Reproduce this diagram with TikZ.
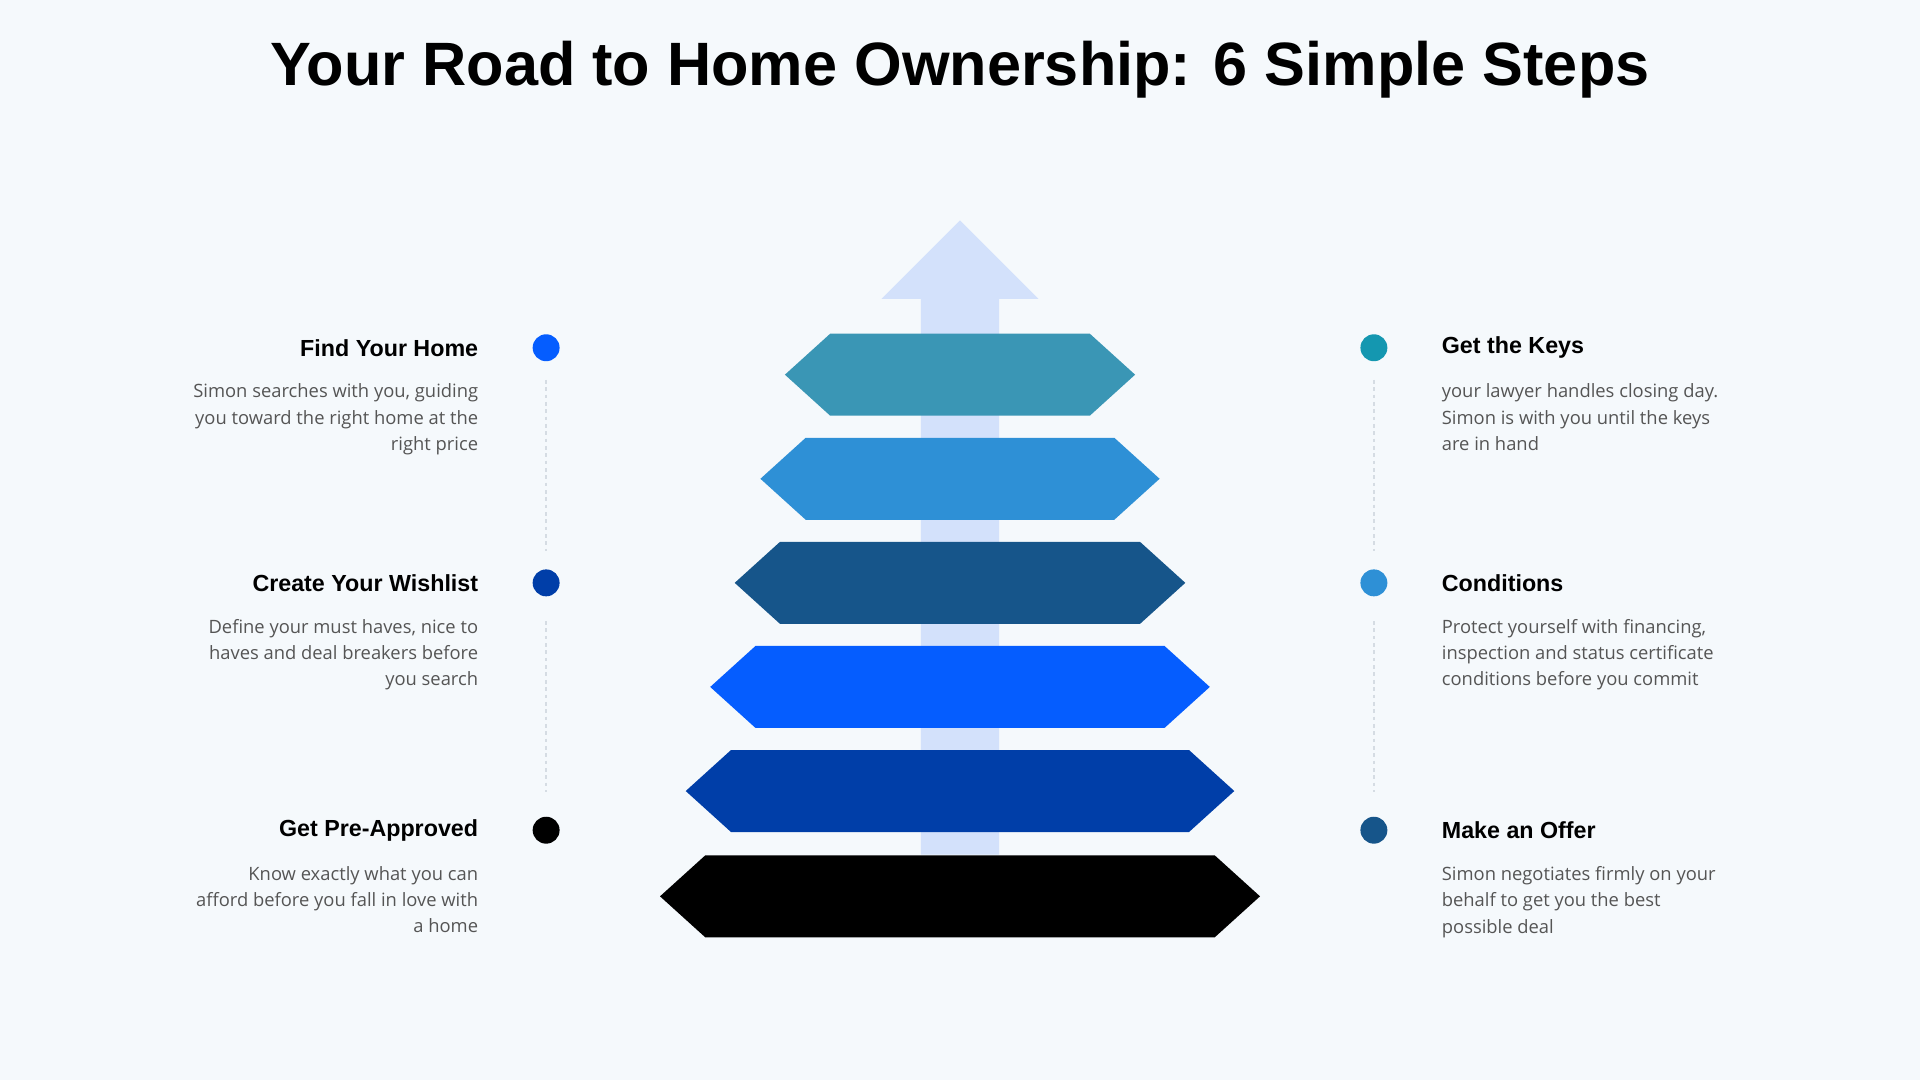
\documentclass[tikz,border=0pt]{standalone}
\usepackage{fontspec}
\setmainfont{Liberation Sans}
\newfontfamily\descfont{Open Sans}
\usetikzlibrary{positioning}
\definecolor{bgcol}{HTML}{F5F9FC}
\definecolor{arrowcol}{HTML}{D3E1FB}
\definecolor{tealA}{HTML}{3A96B5}
\definecolor{skyB}{HTML}{2E90D6}
\definecolor{navyC}{HTML}{16558A}
\definecolor{blueD}{HTML}{055DFF}
\definecolor{royalE}{HTML}{003EA8}
\definecolor{dotteal}{HTML}{1497B0}
\definecolor{desccol}{HTML}{555555}
\definecolor{dashcol}{HTML}{D5DCE3}
\tikzset{
    stepdot/.style = {circle, minimum size=22pt, inner sep=0pt},
    headl/.style = {anchor=east, font=\bfseries\fontsize{19}{22}\selectfont},
    headr/.style = {anchor=west, font=\bfseries\fontsize{19}{22}\selectfont},
    descl/.style = {anchor=north east, align=right, text=desccol,
        font=\descfont\fontsize{15}{21.5}\selectfont},
    descr/.style = {anchor=north west, align=left, text=desccol,
        font=\descfont\fontsize{15}{21.5}\selectfont},
    dashline/.style = {draw=dashcol, line width=1.5pt, dashed}
}
\begin{document}
\begin{tikzpicture}[x=1pt, y=-1pt]
    \fill[bgcol] (0,0) rectangle (1568,882);
    \useasboundingbox (0,0) rectangle (1568,882);
    \node (title) at (784,57) {\bfseries\fontsize{50}{56}\selectfont Your Road to Home Ownership: 6 Simple Steps};
    % arrow behind the steps
    \fill[arrowcol] (784,180) -- (848,244) -- (816,244) -- (816,698) -- (752,698) -- (752,244) -- (720,244) -- cycle;
    % steps
    \foreach \y/\w/\c in {306/143/tealA, 391/163/skyB, 476/184/navyC, 561/204/blueD, 646/224/royalE, 732/245/black}
        \fill[\c] (784-\w,\y) -- (784-\w+37,\y-33.5) -- (784+\w-37,\y-33.5) -- (784+\w,\y) -- (784+\w-37,\y+33.5) -- (784-\w+37,\y+33.5) -- cycle;
    % left column
    \node[stepdot, fill=blueD] (dotfind) at (446,284) {};
    \node[stepdot, fill=royalE] (dotwish) at (446,476) {};
    \node[stepdot, fill=black] (dotpre) at (446,678) {};
    \draw[dashline] ([yshift=-15pt]dotfind.south) -- ([yshift=15pt]dotwish.north);
    \draw[dashline] ([yshift=-20pt]dotwish.south) -- ([yshift=20pt]dotpre.north);
    \node[headl] (hfind) at (394,284) {Find Your Home};
    \node[descl] (dfind) at (394,310) {Simon searches with you, guiding\\you toward the right home at the\\right price};
    \node[headl] (hwish) at (394,476) {Create Your Wishlist};
    \node[descl] (dwish) at (394,502) {Define your must haves, nice to\\haves and deal breakers before\\you search};
    \node[headl] (hpre) at (394,678) {Get Pre-Approved};
    \node[descl] (dpre) at (394,704) {Know exactly what you can\\afford before you fall in love with\\a home};
    % right column
    \node[stepdot, fill=dotteal] (dotkeys) at (1122,284) {};
    \node[stepdot, fill=skyB] (dotcond) at (1122,476) {};
    \node[stepdot, fill=navyC] (dotoffer) at (1122,678) {};
    \draw[dashline] ([yshift=-15pt]dotkeys.south) -- ([yshift=15pt]dotcond.north);
    \draw[dashline] ([yshift=-20pt]dotcond.south) -- ([yshift=20pt]dotoffer.north);
    \node[headr] (hkeys) at (1174,284) {Get the Keys};
    \node[descr] (dkeys) at (1174,310) {your lawyer handles closing day.\\Simon is with you until the keys\\are in hand};
    \node[headr] (hcond) at (1174,476) {Conditions};
    \node[descr] (dcond) at (1174,502) {Protect yourself with financing,\\inspection and status certificate\\conditions before you commit};
    \node[headr] (hoffer) at (1174,678) {Make an Offer};
    \node[descr] (doffer) at (1174,704) {Simon negotiates firmly on your\\behalf to get you the best\\possible deal};
\end{tikzpicture}
\end{document}
